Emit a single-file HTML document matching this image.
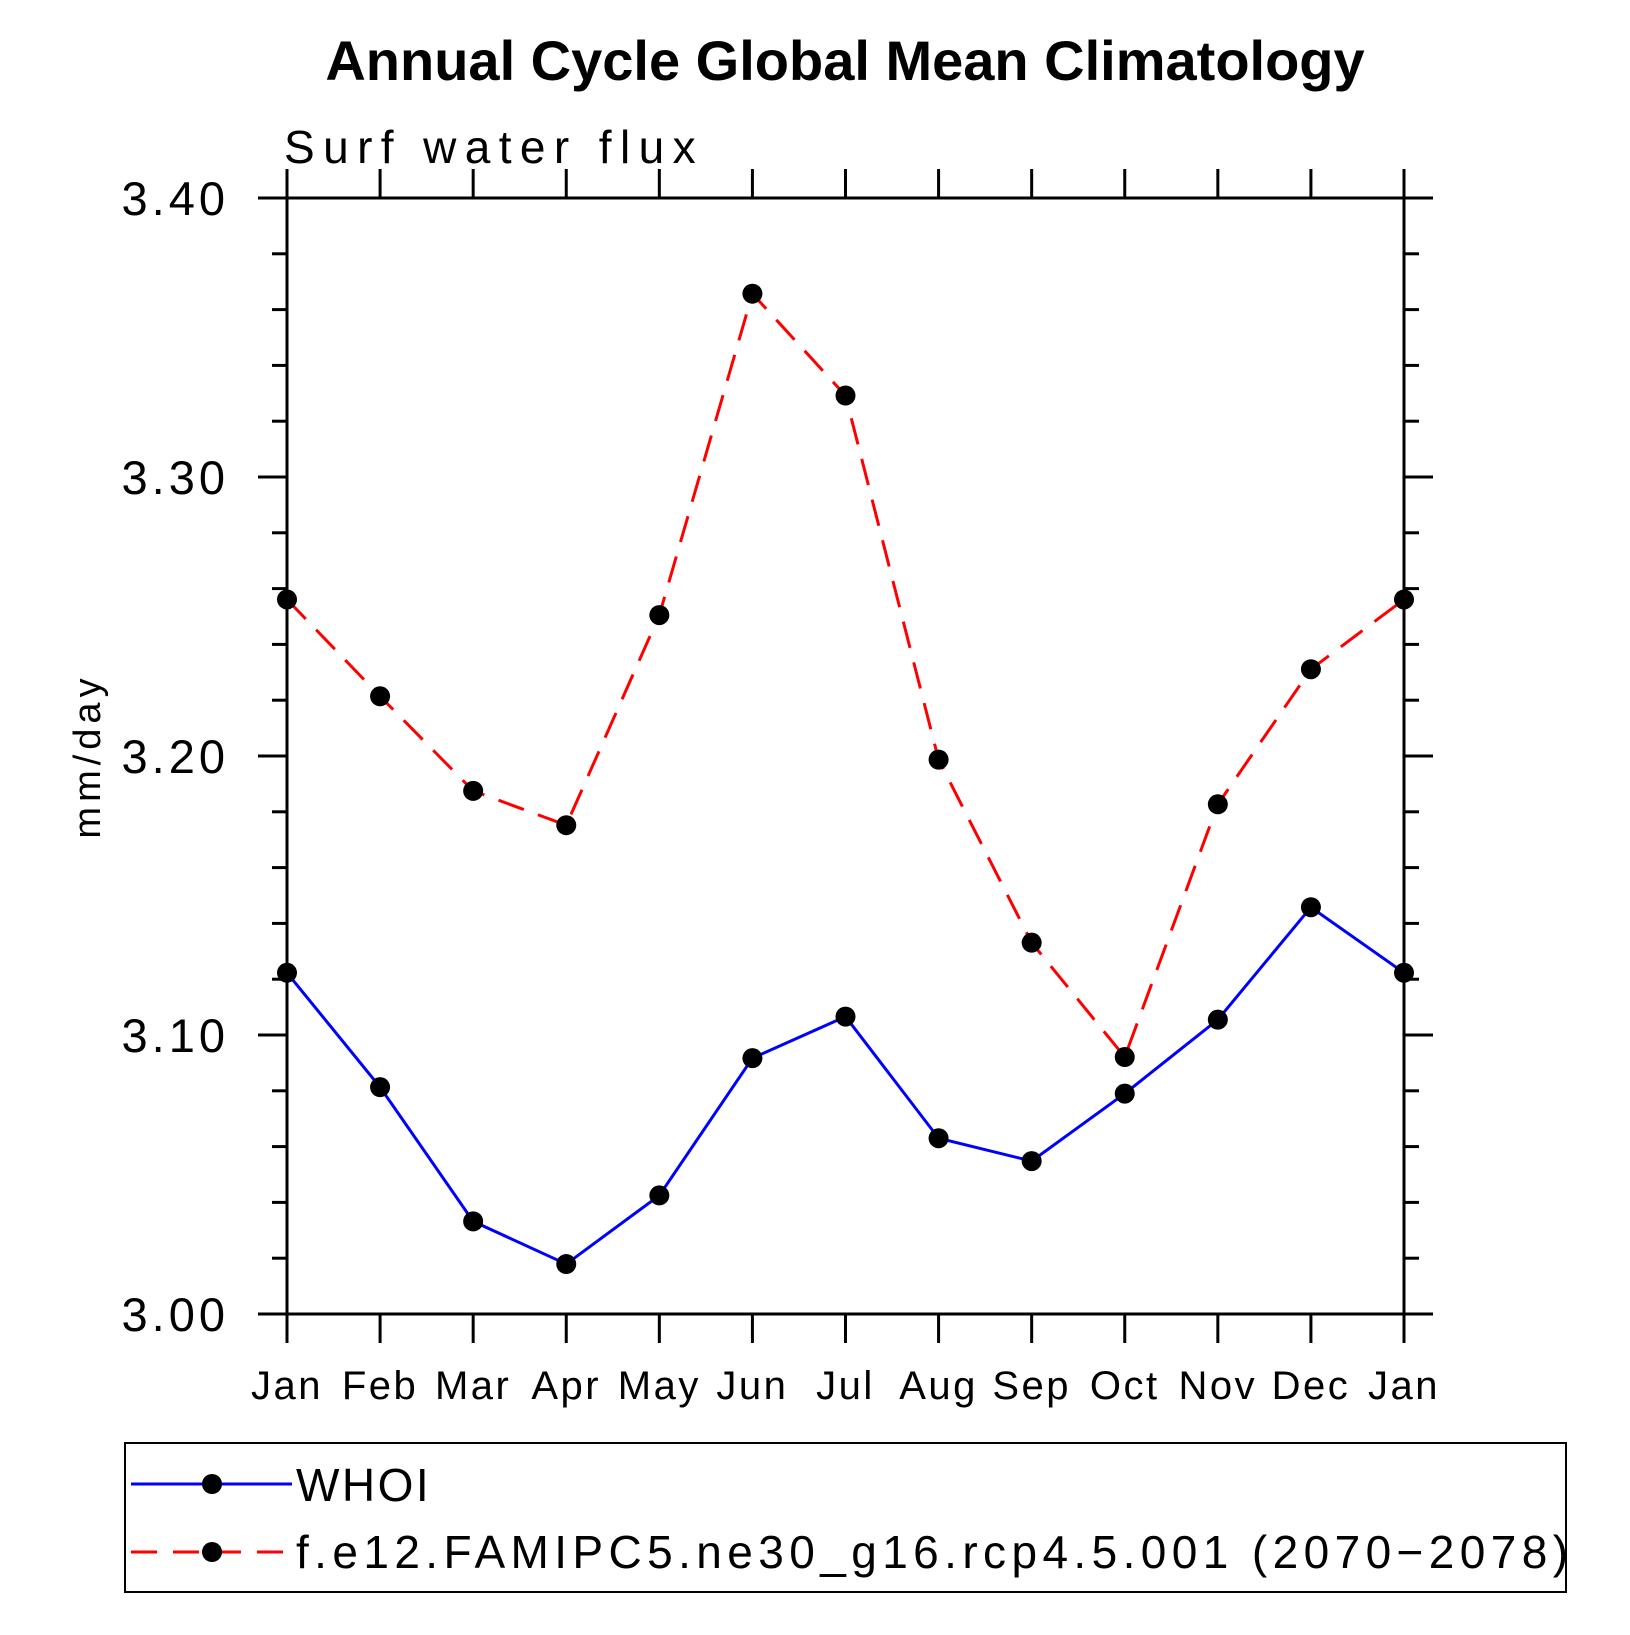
<!DOCTYPE html>
<html><head><meta charset="utf-8"><style>
html,body{margin:0;padding:0;background:#fff;}
svg text{font-family:"Liberation Sans",sans-serif;}
</style></head><body>
<svg id="chart" width="1630" height="1630" viewBox="0 0 1630 1630" xmlns="http://www.w3.org/2000/svg">
<text x="845" y="80" text-anchor="middle" font-size="56" font-weight="bold">Annual Cycle Global Mean Climatology</text>
<text x="284" y="163" font-size="46" fill="#000" style="letter-spacing:8.4px">Surf water flux</text>
<text transform="translate(100,756) rotate(-90)" text-anchor="middle" font-size="38" style="letter-spacing:5px">mm/day</text>
<g id="axes"></g>
<g id="series"></g>
<rect x="125" y="1443" width="1441" height="149" fill="none" stroke="#000" stroke-width="2"/>
<g>
<line x1="131" y1="1484" x2="292" y2="1484" stroke="#00f" stroke-width="3"/>
<circle cx="212" cy="1484" r="10" fill="#000"/>
<text x="296" y="1501" font-size="46" style="letter-spacing:2.5px">WHOI</text>
</g>
<g>
<line x1="131" y1="1552" x2="292" y2="1552" stroke="#f00" stroke-width="3" stroke-dasharray="26,16"/>
<circle cx="212" cy="1552" r="10" fill="#000"/>
<text x="296" y="1568" font-size="46" style="letter-spacing:5.4px">f.e12.FAMIPC5.ne30_g16.rcp4.5.001 (2070−2078)</text>
</g>
</svg>
<script>
const months = ["Jan","Feb","Mar","Apr","May","Jun","Jul","Aug","Sep","Oct","Nov","Dec","Jan"];
const whoi = [3.1223,3.0813,3.0332,3.0179,3.0425,3.0917,3.1066,3.0630,3.0548,3.0790,3.1055,3.1458,3.1223];
const model = [3.2561,3.2214,3.1875,3.1752,3.2505,3.3657,3.3292,3.1987,3.1331,3.0921,3.1827,3.2311,3.2561];
const yTicks = [3.00,3.10,3.20,3.30,3.40];
const yTickLabels = ["3.00","3.10","3.20","3.30","3.40"];

const L=287,R=1404,T=198,B=1314,yMin=3.0,yMax=3.4;
const xs=i=>L+(R-L)*i/(months.length-1);
const ys=v=>B-(v-yMin)/(yMax-yMin)*(B-T);
const NS="http://www.w3.org/2000/svg";
const axes=document.getElementById('axes'), ser=document.getElementById('series');
function mk(tag,attrs,parent){const e=document.createElementNS(NS,tag);for(const k in attrs)e.setAttribute(k,attrs[k]);parent.appendChild(e);return e;}

const frame=mk('rect',{x:L,y:T,width:R-L,height:B-T,fill:'none',stroke:'#000','stroke-width':3},axes);



months.forEach((m,i)=>{
  const x=xs(i);
  const t1=mk('line',{x1:x,y1:B,x2:x,y2:B+29,stroke:'#000','stroke-width':3},axes);
  
  
  const t2=mk('line',{x1:x,y1:T,x2:x,y2:T-29,stroke:'#000','stroke-width':3},axes);
  
  
  const lb=mk('text',{x:x,y:1399,'text-anchor':'middle','font-size':40,style:'letter-spacing:2.5px'},axes);
  lb.textContent=m;
  
  
});
for(let k=0;k<=20;k++){
  const v=yMin+(yMax-yMin)*k/20, y=ys(v), major=k%5===0, len=major?29:15;
  const a=mk('line',{x1:L-len,y1:y,x2:L,y2:y,stroke:'#000','stroke-width':3},axes);
  
  
  const b=mk('line',{x1:R,y1:y,x2:R+len,y2:y,stroke:'#000','stroke-width':3},axes);
  
  
}
yTicks.forEach((v,i)=>{
  const t=mk('text',{x:229,y:ys(v)+17,'text-anchor':'end','font-size':47,style:'letter-spacing:4px'},axes);
  t.textContent=yTickLabels[i];
  
  
});
function draw(data,color,dash,name){
  const pts=data.map((v,i)=>xs(i)+','+ys(v)).join(' ');
  const pl=mk('polyline',{points:pts,fill:'none',stroke:color,'stroke-width':3,'stroke-dasharray':dash},ser);
  
  
  data.forEach((v,i)=>{
    const c=mk('circle',{cx:xs(i),cy:ys(v),r:10,fill:'#000'},ser);
    
    
  });
}
draw(model,'#f00','27,15','model');
draw(whoi,'#00f','none','whoi');
</script>
</body></html>
